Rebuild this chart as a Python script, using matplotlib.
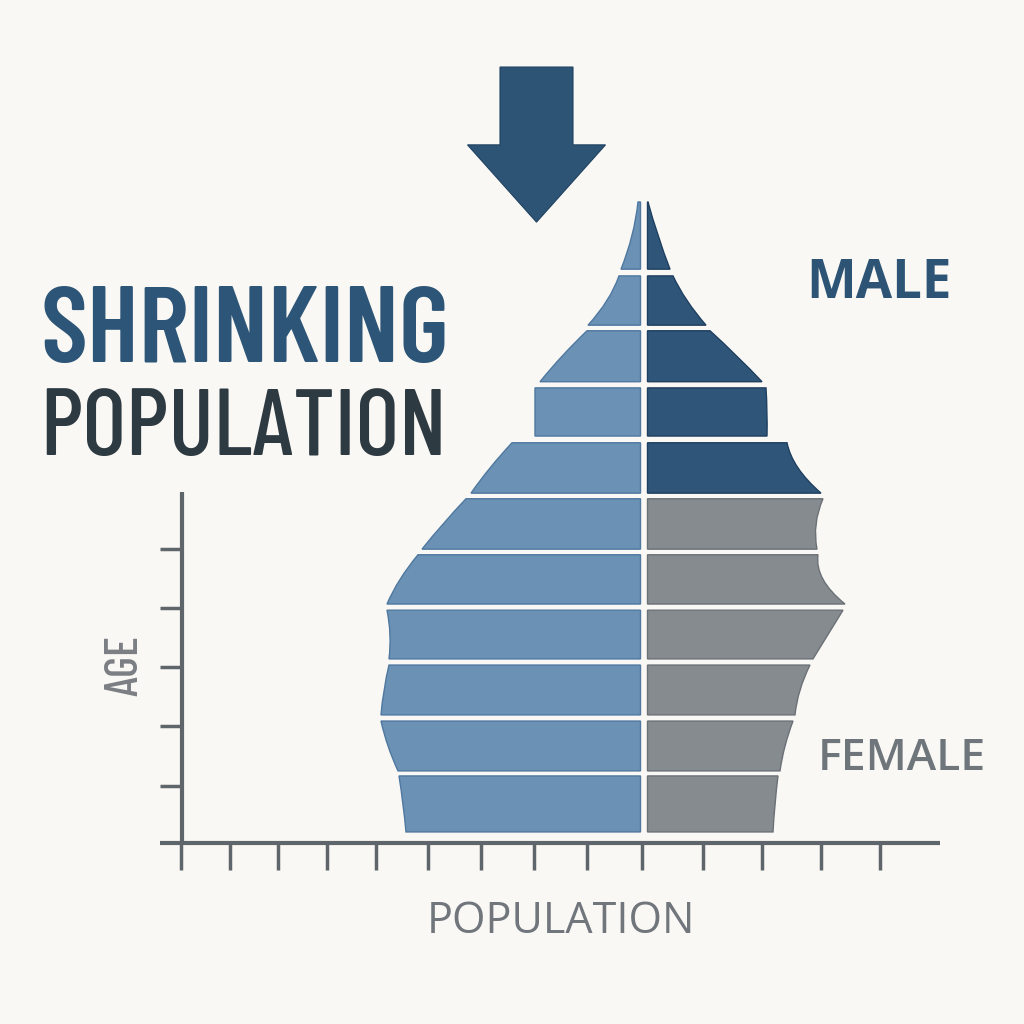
import matplotlib
matplotlib.use('Agg')
import matplotlib.pyplot as plt
from matplotlib.path import Path
from matplotlib.patches import PathPatch

# age bands (bottom -> top), in age-group units
band_bottom = [0.0, 1.09, 2.09, 3.09, 4.07, 5.05, 6.05, 7.07, 8.04, 9.05, 10.05]
band_top = [1.0, 1.98, 2.98, 3.96, 4.95, 5.95, 6.95, 7.93, 8.95, 9.93, 11.25]

# left half widths at top / middle / bottom of each band
left_top = [4.90, 5.26, 5.10, 5.14, 4.52, 3.56, 2.64, 2.18, 1.14, 0.50, 0.12]
left_mid = [4.82, 5.12, 5.20, 5.08, 4.88, 4.02, 3.08, 2.18, 1.64, 0.74, 0.24]
left_bot = [4.76, 4.92, 5.26, 5.10, 5.14, 4.44, 3.46, 2.18, 2.08, 1.12, 0.46]

# right half widths at top / middle / bottom of each band
right_top = [2.68, 2.98, 3.32, 3.98, 3.48, 3.58, 2.86, 2.44, 1.32, 0.58, 0.08]
right_mid = [2.62, 2.82, 3.12, 3.68, 3.58, 3.44, 3.08, 2.46, 1.86, 0.86, 0.28]
right_bot = [2.58, 2.72, 3.02, 3.38, 4.02, 3.46, 3.54, 2.46, 2.36, 1.24, 0.52]

# which bands on the right are "male" (dark) vs "female" (gray)
right_group = ['F', 'F', 'F', 'F', 'F', 'F', 'M', 'M', 'M', 'M', 'M']

x_ticks = [-9.26, -8.28, -7.32, -6.34, -5.36, -4.32, -3.26, -2.2, -1.14,
           -0.04, 1.18, 2.36, 3.54, 4.72]
y_ticks = [0.82, 1.89, 2.95, 4.0, 5.05]

bg = '#faf8f4'
c_left, e_left = '#6b92b4', '#4f78a0'
c_male, e_male = '#2f5679', '#1f3f60'
c_fem, e_fem = '#868b90', '#6b7177'
c_axis = '#5e656b'


def band_patch(x_in, xt, xm, xb, yb, yt, fc, ec):
    ym = (yb + yt) / 2
    cx = 2 * xm - (xt + xb) / 2
    verts = [(x_in, yb), (x_in, yt), (xt, yt), (cx, ym), (xb, yb), (x_in, yb)]
    codes = [Path.MOVETO, Path.LINETO, Path.LINETO, Path.CURVE3, Path.CURVE3,
             Path.CLOSEPOLY]
    return PathPatch(Path(verts, codes), facecolor=fc, edgecolor=ec, lw=1.0)


fig = plt.figure(figsize=(10.24, 10.24), dpi=100, facecolor=bg)
ax = fig.add_axes([0, 0, 1, 1])
ax.set_facecolor(bg)
ax.set_xlim(-12.88, 7.6)
ax.set_ylim(-3.43, 14.857)
ax.axis('off')

gap = 0.07
for i in range(len(band_bottom)):
    yb, yt = band_bottom[i], band_top[i]
    ax.add_patch(band_patch(-gap, -left_top[i], -left_mid[i], -left_bot[i],
                            yb, yt, c_left, e_left))
    fc, ec = (c_male, e_male) if right_group[i] == 'M' else (c_fem, e_fem)
    ax.add_patch(band_patch(gap, right_top[i], right_mid[i], right_bot[i],
                            yb, yt, fc, ec))

# axes lines and ticks
y_axis_x = -9.24
x_axis_y = -0.196
ax.plot([-9.68, 5.92], [x_axis_y, x_axis_y], color=c_axis, lw=3, solid_capstyle='butt')
ax.plot([y_axis_x, y_axis_x], [x_axis_y, 6.07], color=c_axis, lw=3, solid_capstyle='butt')
ax.vlines(x_ticks, -0.68, x_axis_y, color=c_axis, lw=2.5)
ax.hlines(y_ticks, -9.68, y_axis_x, color=c_axis, lw=2.5)

# big arrow
ax.arrow(-2.15, 13.66, 0, -2.77, width=1.46, head_width=2.76, head_length=1.38,
         length_includes_head=True, facecolor='#2e5475', edgecolor='#1f4262', lw=0.8)

# texts
cond = ['Barlow Condensed', 'DejaVu Sans']
sans = ['Open Sans', 'DejaVu Sans']
fig.text(40 / 1024, 1 - 362 / 1024, 'SHRINKING', family=cond, weight=600,
         fontsize=78, color='#2c5577', va='baseline', ha='left')
fig.text(40 / 1024, 1 - 455 / 1024, 'POPULATION', family=cond, weight=500,
         fontsize=68, color='#2e3a42', va='baseline', ha='left')
fig.text(806 / 1024, 1 - 298 / 1024, 'MALE', family=sans,
         weight='bold', fontsize=38, color='#2e5475', va='baseline', ha='left')
fig.text(818 / 1024, 1 - 770 / 1024, 'FEMALE', family=sans,
         weight='semibold', fontsize=32, color='#6e757b', va='baseline', ha='left')
fig.text(561 / 1024, 1 - 933 / 1024, 'POPULATION', family=sans,
         fontsize=31, color='#70767c', va='baseline', ha='center')
fig.text(137 / 1024, 1 - 666 / 1024, 'AGE', family=cond, weight=500,
         fontsize=33, color='#7b7f84', va='baseline', ha='center', rotation=90,
         rotation_mode='anchor')

fig.savefig('out.png', dpi=100, facecolor=bg)
